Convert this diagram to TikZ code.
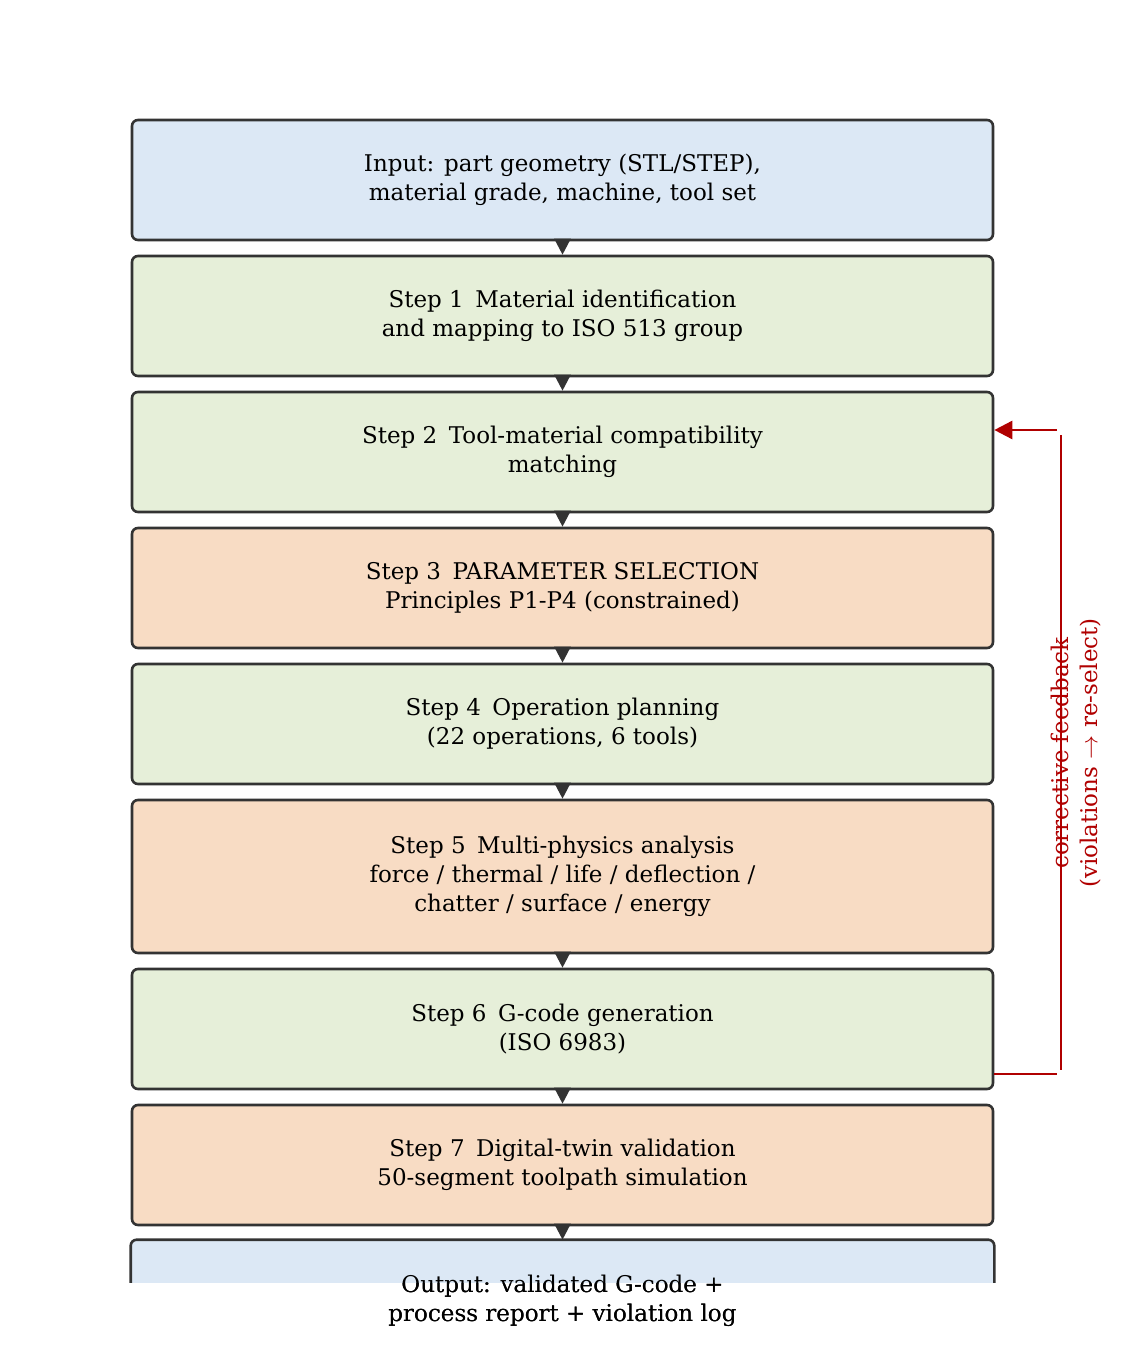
\documentclass[tikz,border=0pt]{standalone}
\usepackage{fontspec}
\setmainfont{DejaVu Serif}
\usepackage{tikz}
\usetikzlibrary{arrows.meta}
\definecolor{inblue}{HTML}{DCE8F5}
\definecolor{stgreen}{HTML}{E6EFD9}
\definecolor{storange}{HTML}{F8DCC4}
\definecolor{edgegray}{HTML}{333333}
\definecolor{fbred}{HTML}{B00000}
\tikzstyle{stepbox}=[rounded corners=3pt, line width=1.3pt, draw=edgegray, minimum width=430.5pt, minimum height=60pt, align=center, inner sep=0, font=\fontsize{11.5}{14.5}\selectfont]
\tikzstyle{flow}=[-{Triangle[length=8pt,width=8pt]}, line width=1.3pt, draw=edgegray, fill=edgegray]
\tikzstyle{feedback}=[line width=1.3pt, draw=fbred]
\begin{document}
\begin{tikzpicture}[x={(0.5pt,0)}, y={(0,-0.5pt)}]
    \useasboundingbox (0,0) rectangle (1124,1348);
    \node[stepbox, fill=inblue] (in) at (562.5, 180) {Input: part geometry (STL/STEP),\\material grade, machine, tool set};
    \node[stepbox, fill=stgreen] (s1) at (562.5, 316) {Step 1\enspace Material identification\\and mapping to ISO 513 group};
    \node[stepbox, fill=stgreen] (s2) at (562.5, 452) {Step 2\enspace Tool-material compatibility\\matching};
    \node[stepbox, fill=storange] (s3) at (562.5, 588) {Step 3\enspace PARAMETER SELECTION\\Principles P1-P4 (constrained)};
    \node[stepbox, fill=stgreen] (s4) at (562.5, 724) {Step 4\enspace Operation planning\\(22 operations, 6 tools)};
    \node[stepbox, fill=storange, minimum height=76.5pt] (s5) at (562.5, 876.5) {Step 5\enspace Multi-physics analysis\\force / thermal / life / deflection /\\chatter / surface / energy};
    \node[stepbox, fill=stgreen] (s6) at (562.5, 1029) {Step 6\enspace G-code generation\\(ISO 6983)};
    \node[stepbox, fill=storange] (s7) at (562.5, 1165) {Step 7\enspace Digital-twin validation\\50-segment toolpath simulation};
    \node[stepbox, draw=none] (out) at (562.5, 1301) {Output: validated G-code +\\process report + violation log};
    % output box is cut off at the bottom
    \begin{scope}[on background layer/.try]
        \clip (0,0) rectangle (1124,1282);
        \draw[rounded corners=3pt, line width=1.3pt, draw=edgegray, fill=inblue] (out.south west) rectangle (out.north east);
    \end{scope}
    \node[stepbox, draw=none] at (out) {Output: validated G-code +\\process report + violation log};
    \draw[flow] (in) -- (s1);
    \draw[flow] (s1) -- (s2);
    \draw[flow] (s2) -- (s3);
    \draw[flow] (s3) -- (s4);
    \draw[flow] (s4) -- (s5);
    \draw[flow] (s5) -- (s6);
    \draw[flow] (s6) -- (s7);
    \draw[flow] (s7.south) -- (out.north);
    % corrective feedback loop
    \coordinate (fbtop) at (1057, 430);
    \coordinate (fbbot) at (1057, 1074);
    \draw[feedback] (s6.east |- fbbot) -- (fbbot);
    \draw[feedback] (1061, 435) -- (1061, 1070);
    \draw[feedback, -{Triangle[length=9pt,width=9pt]}] (fbtop) -- (s2.east |- fbtop);
    \node[rotate=90, text=fbred, font=\fontsize{11.5}{14.5}\selectfont, align=center] (fbtext) at (1076, 753) {corrective feedback\\(violations $\to$ re-select)};
\end{tikzpicture}
\end{document}
